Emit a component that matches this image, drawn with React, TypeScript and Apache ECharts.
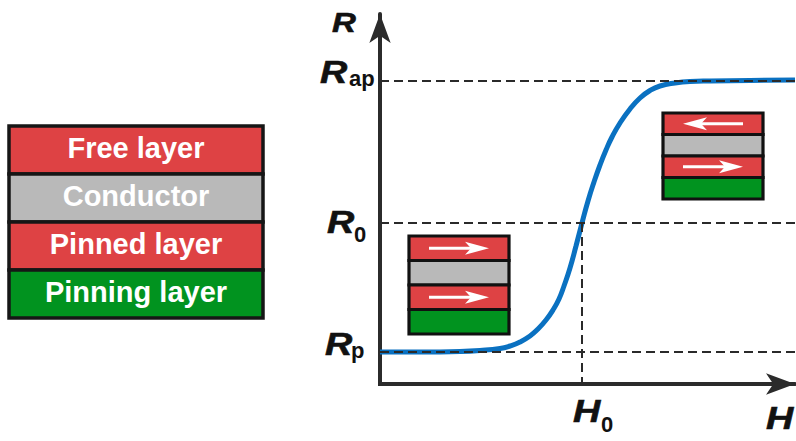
import React, { useEffect, useRef } from 'react';
import * as echarts from 'echarts';

const FONT = '"Liberation Sans", Arial, Helvetica, sans-serif';
const AXIS_COLOR = '#2b2b2b';
const DASH_COLOR = '#2a2a2a';
const CURVE_COLOR = '#0a71c1';
const TEXT_COLOR = '#111111';

// Field (H) and resistance (R) extents, arbitrary units
const H_RANGE = [0, 41.5];
const R_RANGE = [0, 37];

// Resistance versus applied field across the switching transition
const fieldH = [0, 4, 8, 10, 12, 13, 14, 15, 15.8, 16.6, 17.3, 17.9, 18.4, 19, 19.6, 20.2, 20.8, 21.4, 22, 22.6, 23.2, 24, 25, 26, 27, 28, 29.5, 31, 33, 37, 41.5];
const resistR = [3.2, 3.2, 3.25, 3.35, 3.55, 3.8, 4.2, 4.8, 5.5, 6.4, 7.4, 8.5, 9.8, 11.6, 13.8, 16.1, 18.3, 20.2, 21.9, 23.4, 24.7, 26.1, 27.5, 28.6, 29.35, 29.8, 30.1, 30.25, 30.3, 30.35, 30.4];

// Characteristic resistance levels: antiparallel, midpoint, parallel
const levelSubs = ['ap', '0', 'p'];
const levelValues = [30.3, 16.1, 3.2];
const switchingField = 20.2; // H0

// Spin-valve stack, top to bottom
const layerNames = ['Free layer', 'Conductor', 'Pinned layer', 'Pinning layer'];
const layerColors = ['#de4244', '#b9b9b9', '#de4244', '#01931f'];

// Magnetisation direction drawn in each layer of the two state icons
const parallelArrows = ['right', '', 'right', ''];
const antiparallelArrows = ['left', '', 'right', ''];

type El = Record<string, unknown>;

function symbolLabel(main: string, sub: string, left: number, baseline: number, subDx: number, subDrop: number, mainSize = 32, subSize = 22): El[] {
  const out: El[] = [
    {
      type: 'text',
      x: left,
      y: baseline - 0.35 * mainSize,
      scaleX: 1.18,
      style: {
        text: main,
        fill: TEXT_COLOR,
        stroke: TEXT_COLOR,
        lineWidth: 0.6,
        font: `italic bold ${mainSize}px ${FONT}`,
        textAlign: 'left',
        align: 'left',
        textVerticalAlign: 'middle',
        verticalAlign: 'middle',
      },
    },
  ];
  if (sub) {
    out.push({
      type: 'text',
      x: left + subDx,
      y: baseline + subDrop - 0.35 * subSize,
      style: {
        text: sub,
        fill: TEXT_COLOR,
        font: `bold ${subSize}px ${FONT}`,
        textAlign: 'left',
        align: 'left',
        textVerticalAlign: 'middle',
        verticalAlign: 'middle',
      },
    });
  }
  return out;
}

function arrowShape(tail: number, tip: number, y: number): El[] {
  const dir = tip > tail ? 1 : -1;
  const notch = tip - dir * 18;
  const back = tip - dir * 24;
  return [
    { type: 'line', shape: { x1: tail, y1: y, x2: notch, y2: y }, style: { stroke: '#ffffff', lineWidth: 3 } },
    { type: 'polygon', shape: { points: [[tip, y], [back, y - 6.5], [notch, y], [back, y + 6.5]] }, style: { fill: '#ffffff' } },
  ];
}

function stateIcon(x: number, y: number, w: number, layerH: number, arrows: string[]): El[] {
  const out: El[] = [];
  layerColors.forEach((c, i) => {
    out.push({
      type: 'rect',
      shape: { x, y: y + i * layerH, width: w, height: layerH },
      style: { fill: c, stroke: '#111111', lineWidth: 3.2 },
    });
  });
  arrows.forEach((a, i) => {
    if (!a) return;
    const cy = y + i * layerH + layerH / 2;
    const l = x + 20;
    const r = x + 80;
    out.push(...(a === 'right' ? arrowShape(l, r, cy) : arrowShape(r, l, cy)));
  });
  return out;
}

function stackDiagram(x: number, y: number, w: number, layerH: number): El[] {
  const out: El[] = [];
  layerNames.forEach((name, i) => {
    const top = y + i * layerH;
    out.push({
      type: 'rect',
      shape: { x, y: top, width: w, height: layerH },
      style: { fill: layerColors[i], stroke: '#161616', lineWidth: 3.5 },
    });
  });
  layerNames.forEach((name, i) => {
    const top = y + i * layerH;
    out.push({
      type: 'text',
      x: x + w / 2,
      y: top + layerH / 2 - 2,
      style: {
        text: name,
        fill: '#ffffff',
        font: `bold 29px ${FONT}`,
        textAlign: 'center',
        align: 'center',
        textVerticalAlign: 'middle',
        verticalAlign: 'middle',
      },
    });
  });
  return out;
}

export default function App() {
  const ref = useRef<HTMLDivElement>(null);

  useEffect(() => {
    document.body.style.margin = '0';
    const el = ref.current;
    if (!el) return;
    const chart = echarts.init(el, null, { renderer: 'svg' });

    const axisLine = {
      show: true,
      onZero: false,
      symbol: ['none', 'arrow'],
      symbolSize: [16, 29],
      lineStyle: { color: AXIS_COLOR, width: 4 },
    };
    const hidden = { show: false };

    chart.setOption({
      animation: false,
      backgroundColor: '#ffffff',
      grid: { left: 380, top: 14, width: 415, height: 370 },
      xAxis: {
        type: 'value',
        min: H_RANGE[0],
        max: H_RANGE[1],
        axisLine,
        axisTick: hidden,
        axisLabel: hidden,
        splitLine: hidden,
      },
      yAxis: {
        type: 'value',
        min: R_RANGE[0],
        max: R_RANGE[1],
        axisLine,
        axisTick: hidden,
        axisLabel: hidden,
        splitLine: hidden,
      },
      series: [
        {
          type: 'line',
          name: 'R(H)',
          data: fieldH.map((h, i) => [h, resistR[i]]),
          smooth: 0.5,
          showSymbol: false,
          symbol: 'none',
          lineStyle: { color: CURVE_COLOR, width: 5 },
          z: 2,
          markLine: {
            silent: true,
            symbol: ['none', 'none'],
            label: { show: false },
            emphasis: { disabled: true },
            lineStyle: { type: [9, 5], color: DASH_COLOR, width: 2 },
            data: [
              ...levelValues.map((v) => [{ coord: [H_RANGE[0], v] }, { coord: [H_RANGE[1], v] }]),
              [{ coord: [switchingField, levelValues[1]] }, { coord: [switchingField, R_RANGE[0]] }],
            ],
          },
        },
      ],
    });

    const px = (h: number, r: number) => chart.convertToPixel({ seriesIndex: 0 }, [h, r]) as number[];
    const origin = px(H_RANGE[0], R_RANGE[0]);
    const axisX = origin[0];
    const axisY = origin[1];
    const yAp = px(0, levelValues[0])[1];
    const y0 = px(0, levelValues[1])[1];
    const yP = px(0, levelValues[2])[1];
    const xH0 = px(switchingField, 0)[0];
    const xEnd = px(H_RANGE[1], 0)[0];

    const elements: El[] = [
      // fills the corner where the two axis lines meet
      { type: 'rect', shape: { x: axisX - 2, y: axisY - 2, width: 4, height: 4 }, style: { fill: AXIS_COLOR } },
      ...symbolLabel('R', '', axisX - 48, 32, 0, 0, 28),
      ...symbolLabel('R', levelSubs[0], axisX - 60, yAp + 2, 29, 3),
      ...symbolLabel('R', levelSubs[1], axisX - 53, y0 + 10, 27, 9),
      ...symbolLabel('R', levelSubs[2], axisX - 55, yP + 3, 26, 3),
      ...symbolLabel('H', '0', xH0 - 9, axisY + 38, 28, 10),
      ...symbolLabel('H', '', xEnd - 29, axisY + 45, 0, 0),
      ...stackDiagram(9, 126, 254, 48),
      ...stateIcon(409, 236, 100, 24.5, parallelArrows),
      ...stateIcon(663, 113, 100, 21.5, antiparallelArrows),
    ];
    chart.setOption({ graphic: { elements } });

    return () => chart.dispose();
  }, []);

  return <div ref={ref} style={{ width: 796, height: 441 }} />;
}
